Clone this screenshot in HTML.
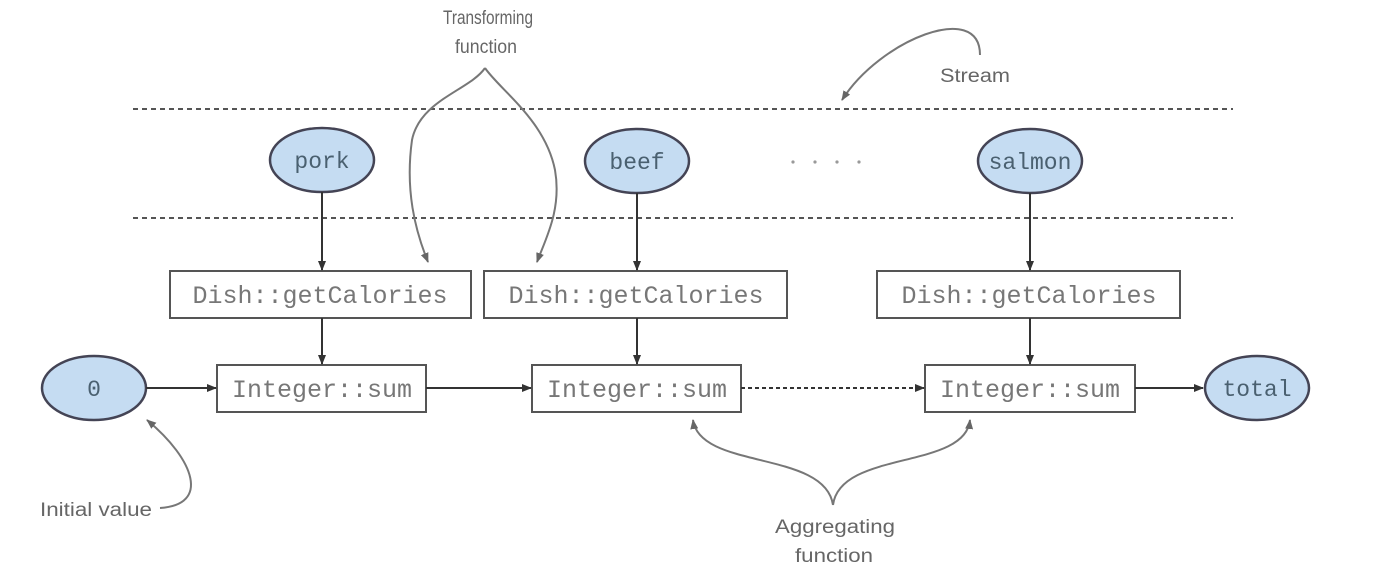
<!DOCTYPE html>
<html><head><meta charset="utf-8"><style>
html,body{margin:0;padding:0;background:#fff;}
svg{display:block}
.m{font-family:"Liberation Mono",monospace;font-size:25px;fill:#777;}
.me{font-family:"Liberation Mono",monospace;font-size:23px;fill:#4a6070;}
.s{font-family:"Liberation Sans",sans-serif;font-size:19px;fill:#666;}
</style></head><body>
<svg width="1374" height="584" viewBox="0 0 1374 584" xmlns="http://www.w3.org/2000/svg">
<defs>
<marker id="a" markerWidth="10" markerHeight="8" refX="9" refY="4" orient="auto" markerUnits="userSpaceOnUse"><path d="M0,0 L10,4 L0,8 z" fill="#333"/></marker>
<marker id="g" markerWidth="10" markerHeight="8" refX="9" refY="4" orient="auto" markerUnits="userSpaceOnUse"><path d="M0,0 L10,4 L0,8 z" fill="#666"/></marker>
</defs>
<g stroke="#555" stroke-width="2" stroke-dasharray="5,4">
<line x1="133" y1="109" x2="1233" y2="109"/>
<line x1="133" y1="218" x2="1233" y2="218"/>
</g>
<g fill="#c5dcf2" stroke="#445" stroke-width="2.5">
<ellipse cx="322" cy="160" rx="52" ry="32"/>
<ellipse cx="637" cy="161" rx="52" ry="32"/>
<ellipse cx="1030" cy="161" rx="52" ry="32"/>
<ellipse cx="94" cy="388" rx="52" ry="32"/>
<ellipse cx="1257" cy="388" rx="52" ry="32"/>
</g>
<text class="me" x="322" y="168" text-anchor="middle">pork</text>
<text class="me" x="637" y="169" text-anchor="middle">beef</text>
<text class="me" x="1030" y="169" text-anchor="middle">salmon</text>
<text class="me" x="94" y="396" text-anchor="middle">0</text>
<text class="me" x="1257" y="396" text-anchor="middle">total</text>
<g fill="#999"><circle cx="793" cy="162" r="1.6"/><circle cx="815" cy="162" r="1.6"/><circle cx="837" cy="162" r="1.6"/><circle cx="859" cy="162" r="1.6"/></g>
<g fill="#fff" stroke="#555" stroke-width="2">
<rect x="170" y="271" width="301" height="47"/>
<rect x="484" y="271" width="303" height="47"/>
<rect x="877" y="271" width="303" height="47"/>
<rect x="217" y="365" width="209" height="47"/>
<rect x="532" y="365" width="209" height="47"/>
<rect x="925" y="365" width="210" height="47"/>
</g>
<text class="m" x="320" y="303" text-anchor="middle">Dish::getCalories</text>
<text class="m" x="636" y="303" text-anchor="middle">Dish::getCalories</text>
<text class="m" x="1029" y="303" text-anchor="middle">Dish::getCalories</text>
<text class="m" x="322" y="397" text-anchor="middle">Integer::sum</text>
<text class="m" x="637" y="397" text-anchor="middle">Integer::sum</text>
<text class="m" x="1030" y="397" text-anchor="middle">Integer::sum</text>
<g stroke="#333" stroke-width="2" fill="none" marker-end="url(#a)">
<line x1="322" y1="192" x2="322" y2="270"/>
<line x1="637" y1="193" x2="637" y2="270"/>
<line x1="1030" y1="193" x2="1030" y2="270"/>
<line x1="322" y1="318" x2="322" y2="364"/>
<line x1="637" y1="318" x2="637" y2="364"/>
<line x1="1030" y1="318" x2="1030" y2="364"/>
<line x1="146" y1="388" x2="216" y2="388"/>
<line x1="426" y1="388" x2="531" y2="388"/>
<line x1="741" y1="388" x2="924" y2="388" stroke-dasharray="4,3"/>
<line x1="1135" y1="388" x2="1203" y2="388"/>
</g>
<text class="s" x="443" y="24" font-size="17" textLength="90" lengthAdjust="spacingAndGlyphs">Transforming</text>
<text class="s" x="455" y="53" font-size="17" textLength="62" lengthAdjust="spacingAndGlyphs">function</text>
<text class="s" x="940" y="82" textLength="70" lengthAdjust="spacingAndGlyphs">Stream</text>
<text class="s" x="40" y="516" textLength="112" lengthAdjust="spacingAndGlyphs">Initial value</text>
<text class="s" x="775" y="533" textLength="120" lengthAdjust="spacingAndGlyphs">Aggregating</text>
<text class="s" x="795" y="562" textLength="78" lengthAdjust="spacingAndGlyphs">function</text>
<g stroke="#777" stroke-width="2" fill="none" marker-end="url(#g)">
<path d="M485,68 C470,90 420,100 412,140 C405,190 415,230 428,262"/>
<path d="M485,68 C500,90 545,120 555,170 C562,210 545,240 537,262"/>
<path d="M980,55 C980,0 880,40 842,100"/>
<path d="M160,508 C210,505 195,460 147,420"/>
<path d="M833,505 C825,450 700,470 693,420"/>
<path d="M833,505 C840,450 965,470 970,420"/>
</g>
</svg>
</body></html>
